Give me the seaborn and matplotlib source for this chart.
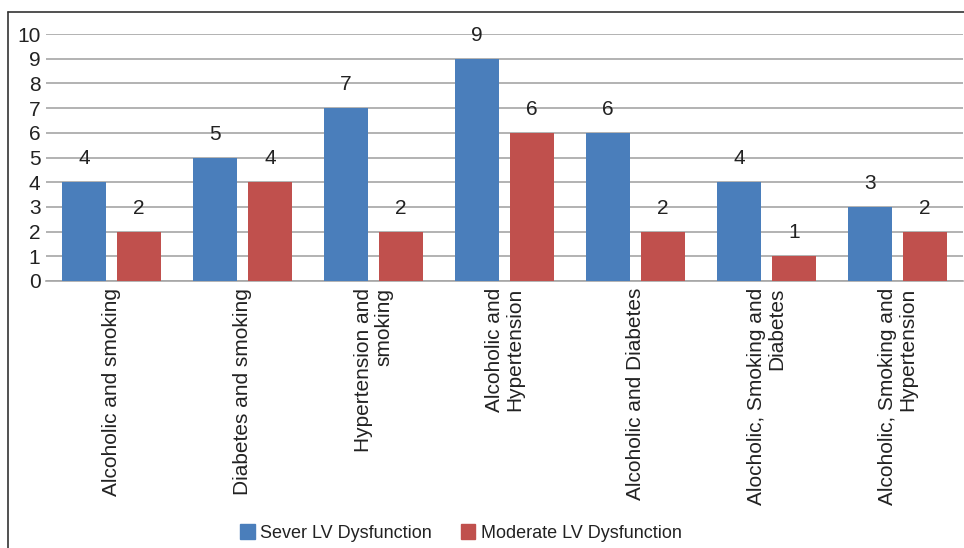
import numpy as np
import pandas as pd
import matplotlib
matplotlib.use("Agg")
import matplotlib.pyplot as plt
import seaborn as sns
from matplotlib.lines import Line2D

categories = [
    "Alcoholic and smoking",
    "Diabetes and smoking",
    "Hypertension and\nsmoking",
    "Alcoholic and\nHypertension",
    "Alcoholic and Diabetes",
    "Alocholic, Smoking and\nDiabetes",
    "Alcoholic, Smoking and\nHypertension",
]
severe = [4, 5, 7, 9, 6, 4, 3]
moderate = [2, 4, 2, 6, 2, 1, 2]
series_names = ["Sever LV Dysfunction", "Moderate LV Dysfunction"]
colors = ["#4a7ebb", "#c0504d"]

df = pd.DataFrame({
    "category": categories * 2,
    "value": severe + moderate,
    "series": [series_names[0]] * len(categories) + [series_names[1]] * len(categories),
})

sns.set_theme(style="white")
plt.rcParams["font.family"] = ["Liberation Sans", "DejaVu Sans"]
text_color = "#222222"
fs = 15

fig = plt.figure(figsize=(9.64, 5.48), dpi=100)
ax = fig.add_axes([46 / 964, 1 - 281 / 548, 917 / 964, (281 - 34) / 548])

sns.barplot(data=df, x="category", y="value", hue="series", order=categories,
            hue_order=series_names, palette=colors, width=0.84, gap=0.2,
            saturation=1, ax=ax, legend=False, zorder=3,
            edgecolor="none", linewidth=0)

for cont in ax.containers:
    ax.bar_label(cont, padding=10, fontsize=fs, color=text_color)

ax.set_ylim(0, 10)
ax.set_xlim(-0.5, len(categories) - 0.5)
ax.set_yticks(range(0, 11))
ax.yaxis.grid(True, color="#a6a6a6", linewidth=1.2, zorder=0)
ax.set_axisbelow(True)
for s in ["top", "right", "left"]:
    ax.spines[s].set_visible(False)
ax.spines["bottom"].set_color("#a6a6a6")
ax.spines["bottom"].set_linewidth(1.2)
ax.set_xlabel("")
ax.set_ylabel("")
ax.tick_params(axis="y", length=0, pad=4, labelsize=fs, labelcolor=text_color)
ax.tick_params(axis="x", length=0, pad=5, labelsize=fs, labelcolor=text_color)
ax.set_xticks(range(len(categories)))
ax.set_xticklabels(categories, rotation=90, ha="center", va="top",
                   multialignment="right", linespacing=1.1)

# outer frame (cropped at right/bottom)
fig.add_artist(Line2D([8 / 964, 8 / 964], [0, 1 - 12 / 548], transform=fig.transFigure,
                      color="#333333", linewidth=1.2))
fig.add_artist(Line2D([8 / 964, 1], [1 - 12 / 548, 1 - 12 / 548], transform=fig.transFigure,
                      color="#333333", linewidth=1.2))

handles = [plt.Rectangle((0, 0), 1, 1, color=c) for c in colors]
fig.legend(handles, series_names, loc="center", bbox_to_anchor=(461 / 964, 1 - 533 / 548),
           ncol=2, frameon=False, fontsize=13, handlelength=0.8, handleheight=0.85,
           handletextpad=0.3, columnspacing=1.6, labelcolor=text_color)

fig.savefig("out.png", dpi=100)
